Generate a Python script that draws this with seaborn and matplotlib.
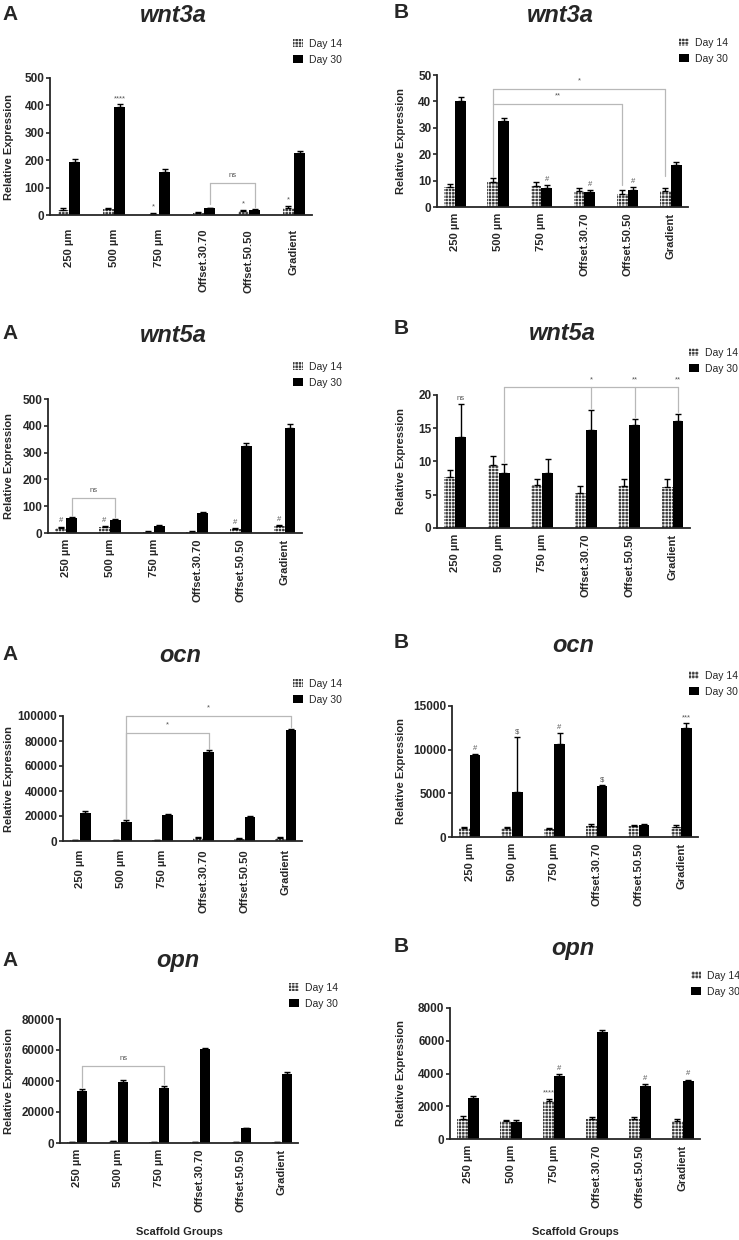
import numpy as np
import pandas as pd
import matplotlib
matplotlib.use("Agg")
import matplotlib.pyplot as plt
import seaborn as sns

groups = ["250 µm", "500 µm", "750 µm", "Offset.30.70", "Offset.50.50", "Gradient"]
days = ["Day 14", "Day 30"]

# values (mean, upper error)
wnt3a_a_d14 = [20, 22, 5, 7, 15, 25]
wnt3a_a_d14_err = [5, 5, 3, 3, 4, 8]
wnt3a_a_d30 = [193, 393, 157, 25, 20, 225]
wnt3a_a_d30_err = [10, 12, 12, 2, 2, 10]

wnt3a_b_d14 = [7.5, 9.5, 8.0, 6.2, 5.0, 6.0]
wnt3a_b_d14_err = [1.2, 1.4, 1.6, 1.0, 1.3, 1.3]
wnt3a_b_d30 = [40.3, 32.5, 7.3, 5.5, 6.5, 16.0]
wnt3a_b_d30_err = [1.2, 1.3, 1.0, 1.0, 1.0, 1.0]

wnt5a_a_d14 = [20, 22, 5, 5, 15, 25]
wnt5a_a_d14_err = [4, 4, 3, 3, 3, 4]
wnt5a_a_d30 = [55, 47, 25, 75, 325, 393]
wnt5a_a_d30_err = [3, 5, 3, 3, 10, 12]

wnt5a_b_d14 = [7.6, 9.4, 6.4, 5.3, 6.3, 6.2]
wnt5a_b_d14_err = [1.1, 1.4, 1.0, 1.0, 1.0, 1.2]
wnt5a_b_d30 = [13.7, 8.2, 8.3, 14.8, 15.5, 16.1]
wnt5a_b_d30_err = [5.0, 1.4, 2.1, 3.0, 0.9, 1.1]

ocn_a_d14 = [800, 500, 700, 2500, 1500, 2500]
ocn_a_d14_err = [300, 300, 300, 800, 600, 800]
ocn_a_d30 = [22800, 15500, 20500, 71500, 19200, 88500]
ocn_a_d30_err = [1200, 1000, 1000, 1000, 1200, 1200]

ocn_b_d14 = [1000, 1000, 900, 1300, 1300, 1200]
ocn_b_d14_err = [200, 180, 180, 150, 120, 150]
ocn_b_d30 = [9400, 5100, 10700, 5800, 1350, 12500]
ocn_b_d30_err = [150, 6300, 1200, 100, 100, 550]

opn_a_d14 = [500, 1200, 500, 500, 500, 600]
opn_a_d14_err = [300, 400, 300, 300, 300, 300]
opn_a_d30 = [33800, 39500, 35500, 60500, 9500, 44500]
opn_a_d30_err = [1000, 1000, 1200, 1000, 300, 1200]

opn_b_d14 = [1250, 1100, 2300, 1250, 1250, 1100]
opn_b_d14_err = [150, 80, 150, 100, 120, 150]
opn_b_d30 = [2500, 1050, 3850, 6550, 3250, 3550]
opn_b_d30_err = [100, 80, 130, 100, 130, 80]

# significance marks: (day index, group index, text)
wnt3a_a_marks = [(1, 1, "****"), (0, 2, "*"), (0, 4, "*"), (0, 5, "*")]
wnt3a_b_marks = [(1, 2, "#"), (1, 3, "#"), (1, 4, "#")]
wnt5a_a_marks = [(0, 0, "#"), (0, 1, "#"), (0, 4, "#"), (0, 5, "#")]
wnt5a_b_marks = [(1, 0, "ns")]
ocn_a_marks = []
ocn_b_marks = [(1, 0, "#"), (1, 1, "$"), (1, 2, "#"), (1, 3, "$"), (1, 5, "***")]
opn_a_marks = []
opn_b_marks = [(0, 2, "****"), (1, 2, "#"), (1, 4, "#"), (1, 5, "#")]

# brackets: (line level, legs [(group, day, leg bottom)], labels [(leg index or None=middle, text)])
wnt3a_a_brackets = [(115, [(3, 1, 40), (4, 1, 28)], [(None, "ns")])]
wnt3a_b_brackets = [(39, [(1, 0, 11.5), (4, 0, 8.5)], [(None, "**")]),
                    (44.7, [(1, 0, 39), (5, 0, 11.6)], [(None, "*")])]
wnt5a_a_brackets = [(130, [(0, 1, 65), (1, 1, 58)], [(None, "ns")])]
wnt5a_b_brackets = [(21.15, [(1, 1, 9.9), (3, 1, 18.1), (4, 1, 16.7), (5, 1, 17.5)],
                     [(1, "*"), (2, "**"), (3, "**")])]
ocn_a_brackets = [(100000, [(1, 1, 17500), (5, 1, 91000)], [(None, "*")]),
                  (86600, [(1, 1, 17500), (3, 1, 74000)], [(None, "*")])]
ocn_b_brackets = []
opn_a_brackets = [(49700, [(0, 1, 36000), (2, 1, 38000)], [(None, "ns")])]
opn_b_brackets = []

W, H = 739, 1240

sns.set_style("ticks")
plt.rcParams["font.family"] = ["Liberation Sans", "DejaVu Sans"]
plt.rcParams["hatch.linewidth"] = 0.6

fig = plt.figure(figsize=(W / 100, H / 100), dpi=100)


def draw_panel(box, letter, gene, d14, e14, d30, e30, ymax, ystep, marks, brackets,
               letter_xy, title_xy, legend_xy, ylab_x, xpad=4, xlabel=False):
    l, r, t, b = box
    ax = fig.add_axes([l / W, 1 - b / H, (r - l) / W, (b - t) / H])
    df = pd.DataFrame({"group": groups * 2,
                       "day": [days[0]] * len(groups) + [days[1]] * len(groups),
                       "value": list(d14) + list(d30)})
    sns.barplot(data=df, x="group", y="value", hue="day", order=groups, hue_order=days,
                palette=["#3c3c3c", "black"], saturation=1, width=0.5, errorbar=None,
                legend=False, ax=ax)
    for p in ax.containers[0]:
        p.set_hatch("+++++")
        p.set_edgecolor("white")
        p.set_linewidth(0)
    for p in ax.containers[1]:
        p.set_linewidth(0)

    vals = [d14, d30]
    errs = [e14, e30]
    centers = []
    for k, cont in enumerate(ax.containers[:2]):
        xs = np.array([p.get_x() + p.get_width() / 2 for p in cont])
        centers.append(xs)
        ax.errorbar(xs, vals[k], yerr=[np.zeros(len(xs)), errs[k]], fmt="none",
                    ecolor="black", elinewidth=1, capsize=2.2, capthick=1)

    for k, g, txt in marks:
        ax.annotate(txt, xy=(centers[k][g], vals[k][g] + errs[k][g]), xytext=(0, 1.5),
                    textcoords="offset points", ha="center", va="bottom",
                    fontsize=5.5, color="#555555", annotation_clip=False)

    for level, legs, labels in brackets:
        xs = [centers[d][g] for g, d, _ in legs]
        ax.plot([xs[0], xs[-1]], [level, level], color="#b8b8b8", lw=0.9, clip_on=False)
        for (g, d, bottom), x in zip(legs, xs):
            ax.plot([x, x], [level, bottom], color="#b8b8b8", lw=0.9, clip_on=False)
        for idx, txt in labels:
            x = (xs[0] + xs[-1]) / 2 if idx is None else xs[idx]
            ax.annotate(txt, xy=(x, level), xytext=(0, 3), textcoords="offset points",
                        ha="center", va="bottom", fontsize=5.5, color="#555555",
                        annotation_clip=False)

    ax.set_xlim(-0.42, len(groups) - 0.6)
    ax.set_ylim(0, ymax)
    ax.set_yticks(np.arange(0, ymax + ystep / 2, ystep))
    sns.despine(ax=ax)
    for s in ["left", "bottom"]:
        ax.spines[s].set_linewidth(1.3)
    ax.tick_params(axis="y", length=3, width=1.2, labelsize=8.5, pad=1)
    ax.tick_params(axis="x", length=0, labelsize=8, pad=xpad)
    ax.set_xticks(range(len(groups)))
    ax.set_xticklabels(groups, rotation=90, fontweight="bold")
    for lab in ax.get_yticklabels():
        lab.set_fontweight("bold")
    ax.set_ylabel("Relative Expression", fontsize=8, fontweight="bold")
    # label anchor is the right edge of the rotated text
    ax.yaxis.set_label_coords((ylab_x - l) / (r - l), 0.5)
    if xlabel:
        ax.set_xlabel("Scaffold Groups", fontsize=8, fontweight="bold")
        ax.xaxis.set_label_coords(0.5, -(1227 - b) / (b - t))
    else:
        ax.set_xlabel("")

    fig.text(letter_xy[0] / W, 1 - letter_xy[1] / H, letter, fontsize=15,
             fontweight="bold", ha="left", va="center")
    fig.text(title_xy[0] / W, 1 - title_xy[1] / H, gene, fontsize=17,
             fontweight="bold", fontstyle="italic", ha="center", va="center")
    ax.legend(handles=[ax.containers[0][0], ax.containers[1][0]], labels=days,
              loc="upper left", bbox_to_anchor=(legend_xy[0] / W, 1 - legend_xy[1] / H),
              bbox_transform=fig.transFigure, frameon=False, fontsize=7.5,
              handlelength=1.0, handleheight=0.8, handletextpad=0.5,
              labelspacing=0.55, borderpad=0, borderaxespad=0)
    return ax


draw_panel((50, 312, 78, 215), "A", "wnt3a", wnt3a_a_d14, wnt3a_a_d14_err, wnt3a_a_d30,
           wnt3a_a_d30_err, 500, 100, wnt3a_a_marks, wnt3a_a_brackets,
           (2, 15), (173, 16), (293, 39), 14, xpad=10)
draw_panel((437, 688, 75, 207), "B", "wnt3a", wnt3a_b_d14, wnt3a_b_d14_err, wnt3a_b_d30,
           wnt3a_b_d30_err, 50, 10, wnt3a_b_marks, wnt3a_b_brackets,
           (394, 12), (560, 16), (679, 38), 406)
draw_panel((48, 302, 399, 533), "A", "wnt5a", wnt5a_a_d14, wnt5a_a_d14_err, wnt5a_a_d30,
           wnt5a_a_d30_err, 500, 100, wnt5a_a_marks, wnt5a_a_brackets,
           (2, 334), (173, 336), (293, 362), 14)
draw_panel((437, 690, 395, 528), "B", "wnt5a", wnt5a_b_d14, wnt5a_b_d14_err, wnt5a_b_d30,
           wnt5a_b_d30_err, 20, 5, wnt5a_b_marks, wnt5a_b_brackets,
           (394, 328), (562, 333), (689, 348), 406)
draw_panel((63, 302, 716, 841), "A", "ocn", ocn_a_d14, ocn_a_d14_err, ocn_a_d30,
           ocn_a_d30_err, 100000, 20000, ocn_a_marks, ocn_a_brackets,
           (2, 655), (180, 655), (293, 679), 14, xpad=6)
draw_panel((452, 698, 706, 837), "B", "ocn", ocn_b_d14, ocn_b_d14_err, ocn_b_d30,
           ocn_b_d30_err, 15000, 5000, ocn_b_marks, ocn_b_brackets,
           (394, 643), (573, 645), (689, 671), 406)
draw_panel((60, 298, 1019, 1143), "A", "opn", opn_a_d14, opn_a_d14_err, opn_a_d30,
           opn_a_d30_err, 80000, 20000, opn_a_marks, opn_a_brackets,
           (2, 960), (178, 960), (289, 983), 14, xlabel=True)
draw_panel((450, 700, 1008, 1139), "B", "opn", opn_b_d14, opn_b_d14_err, opn_b_d30,
           opn_b_d30_err, 8000, 2000, opn_b_marks, opn_b_brackets,
           (394, 947), (573, 948), (691, 971), 406, xlabel=True)

fig.savefig("out.png", dpi=100)
